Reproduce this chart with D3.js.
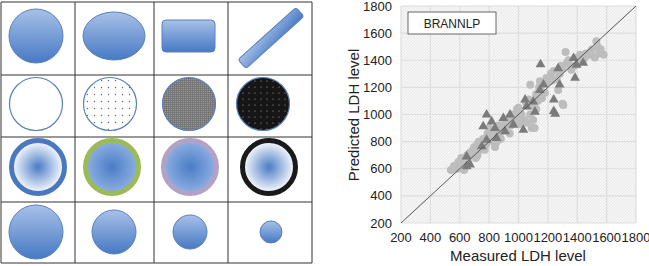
<!DOCTYPE html>
<html>
<head>
<meta charset="utf-8">
<script src="https://cdn.jsdelivr.net/npm/d3@7"></script>
<style>
  body { margin: 0; background: #fff; }
  svg { display: block; font-family: "Liberation Sans", Arial, sans-serif; }
</style>
</head>
<body>
<div id="container"></div>
<script>
// scatter data (measured, predicted)
var circleMeasured  = [540, 560, 580, 600, 610, 620, 640, 650, 660, 680, 700, 700, 720, 740, 720, 760, 780, 790, 800, 820, 830, 840, 850, 860, 870, 880, 900, 910, 920, 940, 950, 960, 980, 1000, 1000, 1020, 1040, 1060, 1060, 1080, 1090, 1100, 1100, 1120, 1120, 1140, 1150, 1160, 1180, 1200, 1220, 1240, 1260, 1270, 1280, 1300, 1300, 1320, 1330, 1340, 1360, 1380, 1400, 1420, 1440, 1460, 1480, 1500, 1530, 1540, 1560, 1580, 1520, 1080, 1146, 1305, 640, 690, 760, 810, 870, 930, 990, 1050,
    590, 630, 670, 710, 730, 770, 800, 850, 880, 960, 1010, 1070, 1130, 1150, 1190, 1230, 1290, 1350, 1410, 1450, 1490, 1550, 1000, 1080, 1110];
var circlePredicted = [590, 620, 600, 640, 680, 600, 660, 700, 640, 700, 720, 760, 780, 740, 700, 820, 780, 860, 830, 880, 800, 760, 840, 900, 860, 820, 880, 940, 900, 860, 920, 960, 940, 980, 1020, 1000, 960, 940, 1060, 1000, 900, 960, 1080, 1040, 1150, 1200, 1240, 1120, 1160, 1240, 1300, 1320, 1260, 1180, 1300, 1340, 1080, 1460, 1380, 1400, 1330, 1360, 1420, 1440, 1400, 1450, 1440, 1480, 1540, 1500, 1480, 1440, 1420, 1220, 1245, 1070, 620, 740, 760, 840, 920, 960, 1040, 1090,
    650, 590, 720, 680, 800, 740, 900, 800, 900, 1000, 930, 1110, 1100, 1180, 1270, 1250, 1360, 1360, 1380, 1420, 1460, 1450, 1050, 1060, 900];
var triMeasured  = [1150, 1270, 1375, 1385, 1440, 1395, 1280, 1240, 1240, 1250, 1170, 1145, 1045, 1055, 1112, 1100, 1033, 942, 897, 965, 783, 760, 817, 840, 783, 750, 647, 647, 670, 851, 908];
var triPredicted = [1370, 1340, 1415, 1270, 1380, 1365, 1220, 1110, 1025, 1005, 1220, 1180, 1110, 1060, 1020, 1095, 887, 998, 973, 924, 998, 912, 948, 900, 813, 764, 690, 617, 630, 826, 875];
var ticks = [200, 400, 600, 800, 1000, 1200, 1400, 1600, 1800];
var legendLabel = "BRANNLP";
var xTitle = "Measured LDH level";
var yTitle = "Predicted LDH level";

// left panel: shape grid
var colEdges = [1, 75, 154, 228, 312];
var rowEdges = [2, 75, 137, 202, 263];
var sizeRow = [27, 22, 17, 11];
var ringColors = ["#4a78be", "#9bbb59", "#b3a2c8", "#1a1a1a"];
var ringInner = ["#ffffff", "#8fb0e2", "#8fb0e2", "#ffffff"];

var svg = d3.select('#container').append('svg')
    .attr('width', 649).attr('height', 266);

var defs = svg.append('defs');

var lg = defs.append('linearGradient').attr('id', 'blueLin')
    .attr('x1', 0).attr('y1', 0).attr('x2', 0).attr('y2', 1);
lg.append('stop').attr('offset', '0%').attr('stop-color', '#a8c1e8');
lg.append('stop').attr('offset', '100%').attr('stop-color', '#4679c4');

var lgd = defs.append('linearGradient').attr('id', 'blueDiag')
    .attr('x1', 0).attr('y1', 0).attr('x2', 1).attr('y2', 1);
lgd.append('stop').attr('offset', '0%').attr('stop-color', '#a8c1e8');
lgd.append('stop').attr('offset', '100%').attr('stop-color', '#4679c4');

ringInner.forEach(function (c, i) {
    var rg = defs.append('radialGradient').attr('id', 'rad' + i);
    rg.append('stop').attr('offset', '0%').attr('stop-color', '#4a7cc6');
    rg.append('stop').attr('offset', '100%').attr('stop-color', c);
});

var dots = defs.append('pattern').attr('id', 'dots')
    .attr('width', 7).attr('height', 7).attr('patternUnits', 'userSpaceOnUse');
dots.append('rect').attr('width', 7).attr('height', 7).attr('fill', '#fff');
dots.append('circle').attr('cx', 3.5).attr('cy', 3.5).attr('r', 0.7).attr('fill', '#666');

var cross = defs.append('pattern').attr('id', 'cross')
    .attr('width', 2).attr('height', 2).attr('patternUnits', 'userSpaceOnUse');
cross.append('rect').attr('width', 2).attr('height', 2).attr('fill', '#959595');
cross.append('path').attr('d', 'M0,0.5H2M0.5,0V2').attr('stroke', '#6a6a6a').attr('stroke-width', 0.6);

var bdots = defs.append('pattern').attr('id', 'bdots')
    .attr('width', 6).attr('height', 6).attr('patternUnits', 'userSpaceOnUse');
bdots.append('rect').attr('width', 6).attr('height', 6).attr('fill', '#161616');
bdots.append('circle').attr('cx', 3).attr('cy', 3).attr('r', 0.6).attr('fill', '#aaa');

var hatch = defs.append('pattern').attr('id', 'hatch')
    .attr('width', 3).attr('height', 3).attr('patternUnits', 'userSpaceOnUse');
hatch.append('rect').attr('width', 3).attr('height', 3).attr('fill', '#f6f6f6');
hatch.append('path').attr('d', 'M0,3L3,0').attr('stroke', '#e4e4e4').attr('stroke-width', 0.8);

var left = svg.append('g');
var shapeStroke = '#5a80b8';

// row 1
left.append('circle').attr('cx', 36).attr('cy', 36).attr('r', 27)
    .attr('fill', 'url(#blueLin)').attr('stroke', shapeStroke);
left.append('ellipse').attr('cx', 114).attr('cy', 36).attr('rx', 31).attr('ry', 24)
    .attr('fill', 'url(#blueLin)').attr('stroke', shapeStroke);
left.append('rect').attr('x', 162).attr('y', 20).attr('width', 53).attr('height', 32).attr('rx', 4)
    .attr('fill', 'url(#blueLin)').attr('stroke', shapeStroke);
left.append('rect').attr('x', -39).attr('y', -6).attr('width', 78).attr('height', 12).attr('rx', 3)
    .attr('transform', 'translate(271,38) rotate(-42)')
    .attr('fill', 'url(#blueDiag)').attr('stroke', shapeStroke);

// row 2
var row2Fill = ['#fff', 'url(#dots)', 'url(#cross)', 'url(#bdots)'];
row2Fill.forEach(function (f, i) {
    left.append('circle').attr('cx', [36, 110, 189, 263][i]).attr('cy', 104).attr('r', 26.5)
        .attr('fill', f).attr('stroke', shapeStroke).attr('stroke-width', 1.2);
});

// row 3
ringColors.forEach(function (c, i) {
    left.append('circle').attr('cx', [38, 112, 190, 269][i]).attr('cy', 167).attr('r', 26.5)
        .attr('fill', 'url(#rad' + i + ')').attr('stroke', c).attr('stroke-width', 5);
});

// row 4
sizeRow.forEach(function (r, i) {
    left.append('circle').attr('cx', [36, 114, 190, 271][i]).attr('cy', 232).attr('r', r)
        .attr('fill', 'url(#blueLin)').attr('stroke', shapeStroke);
});

// grid lines
left.selectAll('.vl').data(colEdges).enter().append('line')
    .attr('x1', function (d) { return d; }).attr('x2', function (d) { return d; })
    .attr('y1', rowEdges[0]).attr('y2', rowEdges[4])
    .attr('stroke', '#333').attr('stroke-width', 1);
left.selectAll('.hl').data(rowEdges).enter().append('line')
    .attr('y1', function (d) { return d; }).attr('y2', function (d) { return d; })
    .attr('x1', colEdges[0]).attr('x2', colEdges[4])
    .attr('stroke', '#333').attr('stroke-width', 1);

// right panel: scatter
var x = d3.scaleLinear().domain([200, 1800]).range([401, 636]);
var y = d3.scaleLinear().domain([200, 1800]).range([223, 6]);

var plot = svg.append('g');
plot.append('rect').attr('x', x(200)).attr('y', y(1800))
    .attr('width', x(1800) - x(200)).attr('height', y(200) - y(1800))
    .attr('fill', 'url(#hatch)');

plot.selectAll('.gx').data(ticks).enter().append('line')
    .attr('x1', function (d) { return x(d); }).attr('x2', function (d) { return x(d); })
    .attr('y1', y(200)).attr('y2', y(1800))
    .attr('stroke', '#dedede').attr('stroke-width', 1.2);
plot.selectAll('.gy').data(ticks).enter().append('line')
    .attr('y1', function (d) { return y(d); }).attr('y2', function (d) { return y(d); })
    .attr('x1', x(200)).attr('x2', x(1800))
    .attr('stroke', '#dedede').attr('stroke-width', 1.2);

plot.selectAll('.pc').data(d3.range(circleMeasured.length)).enter().append('circle')
    .attr('cx', function (i) { return x(circleMeasured[i]); })
    .attr('cy', function (i) { return y(circlePredicted[i]); })
    .attr('r', 4).attr('fill', '#bdbdbd');

var tri = d3.symbol().type(d3.symbolTriangle).size(42);
plot.selectAll('.pt').data(d3.range(triMeasured.length)).enter().append('path')
    .attr('d', tri)
    .attr('transform', function (i) { return 'translate(' + x(triMeasured[i]) + ',' + y(triPredicted[i]) + ')'; })
    .attr('fill', '#7b7b7b');

plot.append('line')
    .attr('x1', x(200)).attr('y1', y(200)).attr('x2', x(1800)).attr('y2', y(1800))
    .attr('stroke', '#555').attr('stroke-width', 1);

// legend
plot.append('rect').attr('x', 408).attr('y', 12).attr('width', 88).attr('height', 22)
    .attr('fill', '#fff').attr('stroke', '#666');
plot.append('text').attr('x', 452).attr('y', 27.5).attr('text-anchor', 'middle')
    .attr('font-size', 12).attr('fill', '#222').text(legendLabel);

// tick labels
plot.selectAll('.tx').data(ticks).enter().append('text')
    .attr('x', function (d) { return x(d); }).attr('y', 242)
    .attr('text-anchor', 'middle').attr('font-size', 13).attr('fill', '#222')
    .text(function (d) { return d; });
plot.selectAll('.ty').data(ticks).enter().append('text')
    .attr('x', 392).attr('y', function (d) { return y(d) + 4.5; })
    .attr('text-anchor', 'end').attr('font-size', 13).attr('fill', '#222')
    .text(function (d) { return d; });

plot.append('text').attr('x', 518).attr('y', 261).attr('text-anchor', 'middle')
    .attr('font-size', 15).attr('fill', '#222').text(xTitle);
plot.append('text').attr('transform', 'translate(359,115) rotate(-90)')
    .attr('text-anchor', 'middle').attr('font-size', 15).attr('fill', '#222').text(yTitle);
</script>
</body>
</html>
